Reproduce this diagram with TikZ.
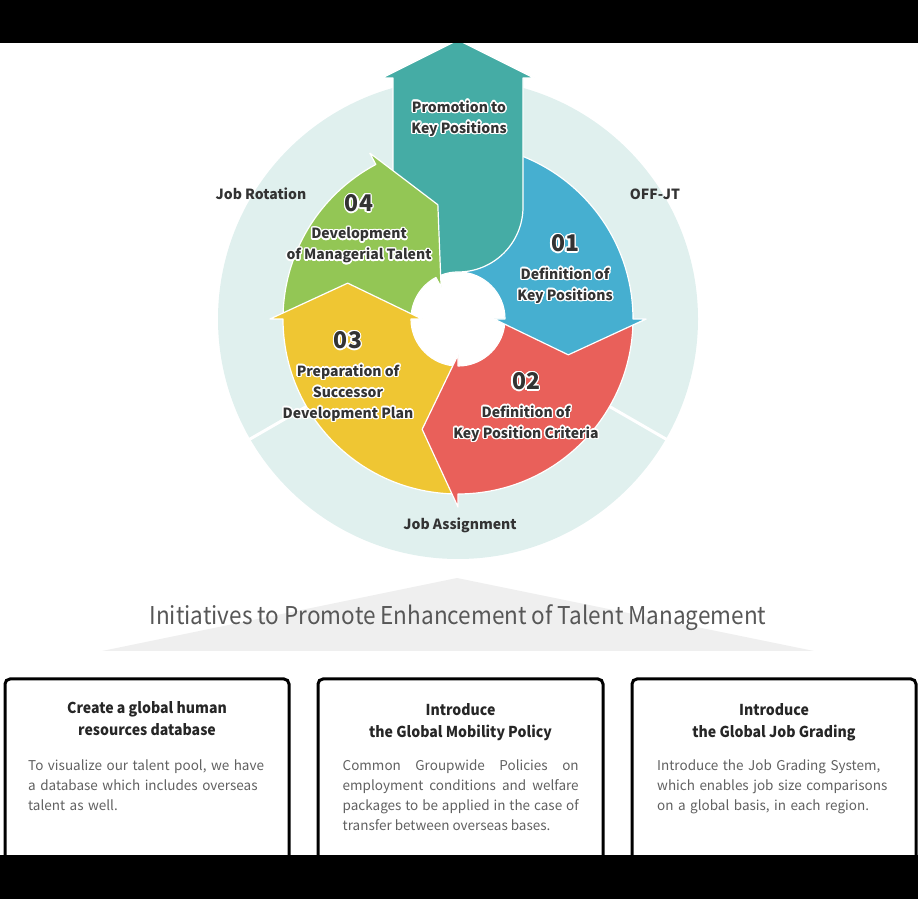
\documentclass[tikz,border=0pt]{standalone}
\usepackage{fontspec}
\setmainfont{Noto Sans CJK JP}
\newfontfamily\narrowfont{Noto Sans CJK JP}[FakeStretch=0.92]
\newfontfamily\headfont{Noto Sans CJK JP}[FakeStretch=0.94]
\usepackage[copies]{contour}
\usetikzlibrary{positioning}

\definecolor{ringbg}{HTML}{E0F0EE}
\definecolor{tealc}{HTML}{45ACA5}
\definecolor{bluec}{HTML}{46AFD0}
\definecolor{redc}{HTML}{E9605A}
\definecolor{yellowc}{HTML}{EFC633}
\definecolor{greenc}{HTML}{93C655}
\definecolor{ink}{HTML}{333333}
\definecolor{roof}{HTML}{EFEFEF}

\contourlength{1.4pt}
\newcommand{\halo}[1]{\contour{white}{#1}}
% one band of the cycle: start angle, end angle, tip angle, colour
\newcommand{\arrowband}[4]{%
  \path[seg, fill=#4] (#1:47) -- (#1:175) arc[start angle=#1, end angle=#2, radius=175pt]
    -- (#2:188) -- (#3:116) -- (#2:36) -- (#2:47)
    arc[start angle=#2, end angle=#1, radius=47pt] -- cycle;}

\tikzset{
  seg/.style={draw=white, line width=1.2pt, line join=round},
  segnum/.style={inner sep=0, text=ink, font=\bfseries\fontsize{23}{23}\selectfont},
  segtext/.style={inner sep=0, text=ink, align=center, font=\bfseries\fontsize{14}{21}\selectfont},
  ringlabel/.style={inner sep=0, text=ink, font=\bfseries\fontsize{14}{16}\selectfont},
  card/.style={draw=black, line width=3pt, rounded corners=5pt, fill=white, anchor=north west, minimum height=192pt},
  cardhead/.style={inner sep=0, align=center, text=black!85, font=\headfont\bfseries\fontsize{15}{22}\selectfont},
  cardbody/.style={inner sep=0, anchor=north west, text width=236pt, text=black!62, font=\fontsize{13.5}{20}\selectfont},
}

\begin{document}
\begin{tikzpicture}[x=1pt, y=1pt]
  \useasboundingbox (0,0) rectangle (918,899);

  % the cycle
  \begin{scope}[shift={(458,580)}]
    \fill[ringbg] (0,0) circle[radius=240pt];
    \foreach \a in {-30,-150}
      \draw[white, line width=3pt] (\a:170) -- (\a:242);
    \fill[white] (0,0) circle[radius=47pt];

    \arrowband{90}{0}{-18}{bluec}
    % promotion arrow
    \path[seg, fill=tealc] (-76,241) -- (0,279) -- (76,241) -- (65,241) -- (65,112)
      arc[start angle=0, end angle=-90, radius=65pt]
      arc[start angle=90, end angle=125, radius=47pt] -- (-65,120) -- (-65,241) -- cycle;
    \arrowband{180}{118}{100}{greenc}
    \arrowband{270}{180}{162}{yellowc}
    \arrowband{0}{-90}{-108}{redc}
    \begin{scope}
      \clip (0,3) rectangle (200,-60);
      \arrowband{90}{0}{-18}{bluec}
    \end{scope}

    \node[ringlabel] (rot) at (-197,125) {Job Rotation};
    \node[ringlabel] (offjt) at (197,125) {OFF-JT};
    \node[ringlabel] (assign) at (2,-206) {Job Assignment};

    \node[segtext] (promo) at (1,200) {\halo{Promotion to}\\\halo{Key Positions}};
    \node[segnum] (n1) at (107,75) {\halo{01}};
    \node[segtext, below=14pt of n1] (t1) {\halo{Definition of}\\\halo{Key Positions}};
    \node[segnum] (n2) at (68,-63) {\halo{02}};
    \node[segtext, below=14pt of n2] (t2) {\halo{Definition of}\\\halo{Key Position Criteria}};
    \node[segnum] (n3) at (-110,-22) {\halo{03}};
    \node[segtext, below=14pt of n3] (t3) {\halo{Preparation of}\\\halo{Successor}\\\halo{Development Plan}};
    \node[segnum] (n4) at (-99,115) {\halo{04}};
    \node[segtext, below=14pt of n4] (t4) {\halo{Development}\\\halo{of Managerial Talent}};
  \end{scope}

  % initiatives
  \fill[roof] (102,248) -- (457,321) -- (814,248) -- cycle;
  \node[anchor=base, inner sep=0, text=black!66, font=\narrowfont\fontsize{24.5}{24.5}\selectfont] (title) at (458,274)
    {Initiatives to Promote Enhancement of Talent Management};

  \node[card, minimum width=284pt] (card1) at (3.5,221.5) {};
  \node[card, minimum width=285pt] (card2) at (316.5,221.5) {};
  \node[card, minimum width=284pt] (card3) at (630.5,221.5) {};

  \node[cardhead, below=24pt of card1.north] (head1) {Create a global human\\resources database};
  \node[cardhead, below=26pt of card2.north] (head2) {Introduce\\the Global Mobility Policy};
  \node[cardhead, below=26pt of card3.north] (head3) {Introduce\\the Global Job Grading};

  \node[cardbody, align=left] (body1) at (28,139.5)
    {To visualize our talent pool, we have\\a database which includes overseas\\talent as well.};
  \node[cardbody, align=justify] (body2) at (342.5,139.5)
    {Common Groupwide Policies on\linebreak employment conditions and welfare\linebreak packages to be applied in the case of\linebreak transfer between overseas bases.};
  \node[cardbody, align=left] (body3) at (657,139.5)
    {Introduce the Job Grading System,\\which enables job size comparisons\\on a global basis, in each region.};

  % letterbox
  \fill[black] (0,856) rectangle (918,899);
  \fill[black] (0,0) rectangle (918,44);
\end{tikzpicture}
\end{document}
